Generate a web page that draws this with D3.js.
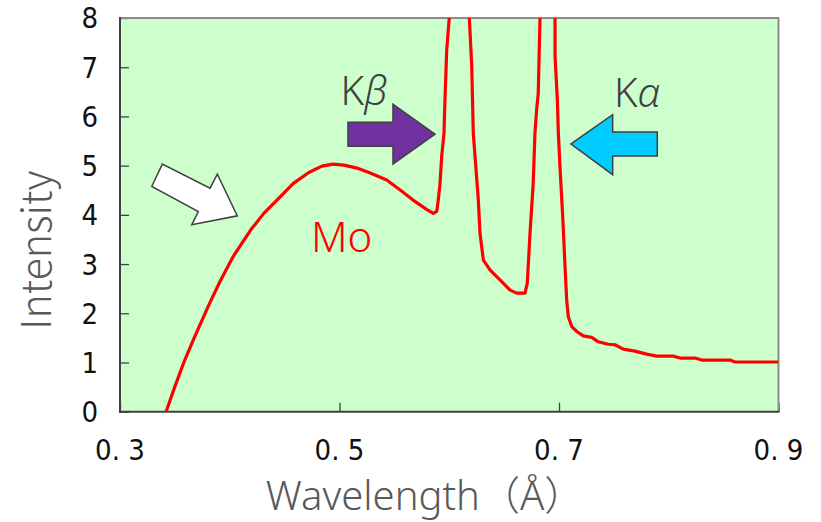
<!DOCTYPE html>
<html>
<head>
<meta charset="utf-8">
<script src="https://cdn.jsdelivr.net/npm/d3@7"></script>
<style>
body { margin: 0; background: #ffffff; }
svg { display: block; }
</style>
</head>
<body>
<div id="canvas"></div>
<script>
// ----------------------------------------------------------
// DATA -----------------------------------------------------
// ----------------------------------------------------------
// wavelength (Å) of the Mo spectrum
var wavelength = [
0.342, 0.350, 0.359, 0.368, 0.381, 0.391, 0.403, 0.419, 0.431, 0.443,
0.458, 0.472, 0.484, 0.494, 0.504, 0.516, 0.528, 0.543, 0.555, 0.567,
0.580, 0.5855, 0.5886, 0.5900, 0.5916, 0.5931, 0.5952, 0.5961, 0.5977, 0.600,
0.609,
0.6183, 0.6190, 0.6205, 0.6219, 0.6265, 0.6280, 0.6311, 0.6371, 0.6462, 0.6554,
0.6614, 0.6690, 0.6711, 0.6736, 0.6765, 0.6781, 0.6796, 0.6811, 0.6827,
0.689,
0.6964, 0.6964, 0.6985, 0.6994, 0.7009, 0.7034, 0.7055, 0.7070, 0.7085, 0.7116,
0.7161, 0.7221, 0.7298, 0.7358, 0.7449, 0.7510, 0.7586, 0.7692, 0.7799, 0.7890,
0.8041, 0.8103, 0.8239, 0.8300, 0.8558, 0.8604, 0.900
];
// intensity (values above 8 run off the top of the frame)
var intensity = [
0.00, 0.51, 1.05, 1.52, 2.17, 2.64, 3.15, 3.69, 4.03, 4.30,
4.64, 4.86, 4.99, 5.03, 5.01, 4.95, 4.85, 4.71, 4.51, 4.30,
4.10, 4.03, 4.07, 4.30, 4.64, 5.18, 5.66, 6.34, 7.35, 8.00,
10.5,
8.00, 7.69, 7.01, 5.66, 4.30, 3.63, 3.08, 2.88, 2.68, 2.47,
2.41, 2.41, 2.61, 3.63, 4.64, 5.66, 6.13, 6.47, 8.00,
12.0,
8.00, 7.22, 6.34, 5.66, 4.98, 3.96, 2.95, 2.27, 1.93, 1.73,
1.63, 1.54, 1.51, 1.42, 1.37, 1.36, 1.27, 1.23, 1.17, 1.13,
1.13, 1.09, 1.09, 1.05, 1.05, 1.01, 1.01
];
// ticks
var x_ticks = [0.3, 0.5, 0.7, 0.9];
var x_tick_labels = ["0. 3", "0. 5", "0. 7", "0. 9"];
var y_ticks = [0, 1, 2, 3, 4, 5, 6, 7, 8];
// annotations: label, wavelength, intensity
var label_names = ["Kβ", "Kα", "Mo"];
var label_x = [0.5010, 0.7500, 0.4740];
var label_y = [6.23, 6.19, 3.25];
// arrow tips: wavelength, intensity
var arrow_names = ["white", "kbeta", "kalpha"];
var arrow_x = [0.4069, 0.5870, 0.7109];
var arrow_y = [3.98, 5.64, 5.44];


// ----------------------------------------------------------
// LAYOUT ---------------------------------------------------
// ----------------------------------------------------------
var width = 821, height = 522;
var plot_left = 120, plot_right = 778.5, plot_top = 18, plot_bottom = 411.7;

var color_plot_bg = "#ccffcc";
var color_axis = "#404040";
var color_frame = "#8c8c8c";
var color_title = "#595959";
var color_line = "#ff0000";

var svg = d3.select("#canvas").append("svg")
.attr("width", width)
.attr("height", height)
.style("background-color", "#ffffff");

var xScale = d3.scaleLinear().domain([0.3, 0.9]).range([plot_left, plot_right]);
var yScale = d3.scaleLinear().domain([0, 8]).range([plot_bottom, plot_top]);

// plot background
svg.append("rect")
.attr("x", plot_left)
.attr("y", plot_top)
.attr("width", plot_right - plot_left)
.attr("height", plot_bottom - plot_top)
.style("fill", color_plot_bg);

svg.append("clipPath")
.attr("id", "plot_clip")
.append("rect")
.attr("x", plot_left)
.attr("y", plot_top)
.attr("width", plot_right - plot_left)
.attr("height", plot_bottom - plot_top);


// ----------------------------------------------------------
// AXES -----------------------------------------------------
// ----------------------------------------------------------
// y axis, ticks pointing inward
svg.append("g")
.attr("class", "y_axis")
.attr("transform", "translate(" + plot_left + ",0)")
.call(d3.axisRight(yScale).tickValues(y_ticks).tickSize(9).tickFormat(""))
.call(function(g) {
g.select(".domain").remove();
g.selectAll(".tick line").attr("stroke", color_axis).attr("stroke-width", 1.3);
});
// y tick labels
svg.append("g").selectAll("text")
.data(y_ticks)
.enter()
.append("text")
.attr("x", 98)
.attr("y", function(d) { return yScale(d); })
.attr("dy", "0.36em")
.attr("text-anchor", "end")
.style("font-family", "'Liberation Sans Narrow', 'DejaVu Sans Condensed', sans-serif")
.style("font-size", "29px")
.style("fill", "#111111")
.text(function(d) { return d; });

// x axis, ticks pointing inward
svg.append("g")
.attr("class", "x_axis")
.attr("transform", "translate(0," + plot_bottom + ")")
.call(d3.axisTop(xScale).tickValues(x_ticks).tickSize(9).tickFormat(""))
.call(function(g) {
g.select(".domain").remove();
g.selectAll(".tick line").attr("stroke", color_axis).attr("stroke-width", 1.3);
});
// x tick labels
svg.append("g").selectAll("text")
.data(x_ticks)
.enter()
.append("text")
.attr("x", function(d) { return xScale(d); })
.attr("y", 460)
.attr("text-anchor", "middle")
.style("font-family", "'Liberation Sans Narrow', 'DejaVu Sans Condensed', sans-serif")
.style("font-size", "29px")
.style("fill", "#111111")
.text(function(d, i) { return x_tick_labels[i]; });

// frame: grey top and right, dark left and bottom
svg.append("line")
.attr("x1", plot_left).attr("x2", plot_right)
.attr("y1", plot_top).attr("y2", plot_top)
.attr("stroke", color_frame).attr("stroke-width", 2);
svg.append("line")
.attr("x1", plot_right).attr("x2", plot_right)
.attr("y1", plot_top - 1).attr("y2", plot_bottom)
.attr("stroke", color_frame).attr("stroke-width", 2);
svg.append("line")
.attr("x1", plot_left).attr("x2", plot_left)
.attr("y1", plot_top - 1).attr("y2", plot_bottom + 1)
.attr("stroke", color_axis).attr("stroke-width", 2);
svg.append("line")
.attr("x1", plot_left - 1).attr("x2", plot_right + 1)
.attr("y1", plot_bottom).attr("y2", plot_bottom)
.attr("stroke", color_axis).attr("stroke-width", 2);


// ----------------------------------------------------------
// GFX ------------------------------------------------------
// ----------------------------------------------------------
var spectrum = wavelength.map(function(d, i) { return [d, intensity[i]]; });

var line = d3.line()
.x(function(d) { return xScale(d[0]); })
.y(function(d) { return yScale(d[1]); });

svg.append("path")
.datum(spectrum)
.attr("clip-path", "url(#plot_clip)")
.attr("d", line)
.attr("fill", "none")
.attr("stroke", color_line)
.attr("stroke-width", 3.2)
.attr("stroke-linejoin", "round");

// block arrows (shape offsets from the tip, in px)
var arrow_shapes = {
white: [[-85.6,-29.3],[-75,-51.7],[-27.3,-27.7],[-20,-41.7],[0,0],[-45.6,9],[-39,-4.3]],
kbeta: [[0,0],[-42,-30],[-42,-12],[-87,-12],[-87,12],[-42,12],[-42,30]],
kalpha: [[0,0],[41.7,-29.3],[41.7,-12],[86.3,-12],[86.3,12],[41.7,12],[41.7,30.7]]
};
var arrow_fill = { white: "#ffffff", kbeta: "#7030a0", kalpha: "#00ccff" };

svg.append("g").selectAll("polygon")
.data(arrow_names)
.enter()
.append("polygon")
.attr("points", function(d, i) {
var tx = xScale(arrow_x[i]), ty = yScale(arrow_y[i]);
return arrow_shapes[d].map(function(p) { return (tx + p[0]) + "," + (ty + p[1]); }).join(" ");
})
.attr("fill", function(d) { return arrow_fill[d]; })
.attr("stroke", "#404040")
.attr("stroke-width", 1.5)
.attr("stroke-linejoin", "miter");


// ----------------------------------------------------------
// TEXT -----------------------------------------------------
// ----------------------------------------------------------
var label_group = svg.append("g");
// Kβ / Kα : plain K + italic greek letter
label_group.selectAll("text.k_label")
.data([0, 1])
.enter()
.append("text")
.attr("class", "k_label")
.attr("x", function(i) { return xScale(label_x[i]); })
.attr("y", function(i) { return yScale(label_y[i]); })
.style("font-family", "'Noto Sans', 'Open Sans', sans-serif")
.style("font-weight", 300)
.style("font-size", "40px")
.style("fill", "#404040")
.each(function(i) {
var t = d3.select(this);
t.append("tspan").text(label_names[i].charAt(0));
t.append("tspan").style("font-style", "italic").text(label_names[i].charAt(1));
});
// Mo
label_group.append("text")
.attr("x", xScale(label_x[2]))
.attr("y", yScale(label_y[2]))
.style("font-family", "'Noto Sans', 'Open Sans', sans-serif")
.style("font-weight", 300)
.style("font-size", "42px")
.style("fill", color_line)
.text(label_names[2]);

// axis titles
svg.append("text")
.attr("transform", "translate(51,250) rotate(-90)")
.attr("text-anchor", "middle")
.style("font-family", "'Noto Sans CJK JP', 'Noto Sans', sans-serif")
.style("font-weight", 300)
.style("font-size", "41px")
.style("fill", color_title)
.text("Intensity");

svg.append("text")
.attr("x", 425)
.attr("y", 509.5)
.attr("text-anchor", "middle")
.style("font-family", "'Noto Sans', 'Noto Sans CJK JP', sans-serif")
.style("font-weight", 300)
.style("font-size", "40px")
.style("fill", color_title)
.text("Wavelength（Å）");
</script>
</body>
</html>
